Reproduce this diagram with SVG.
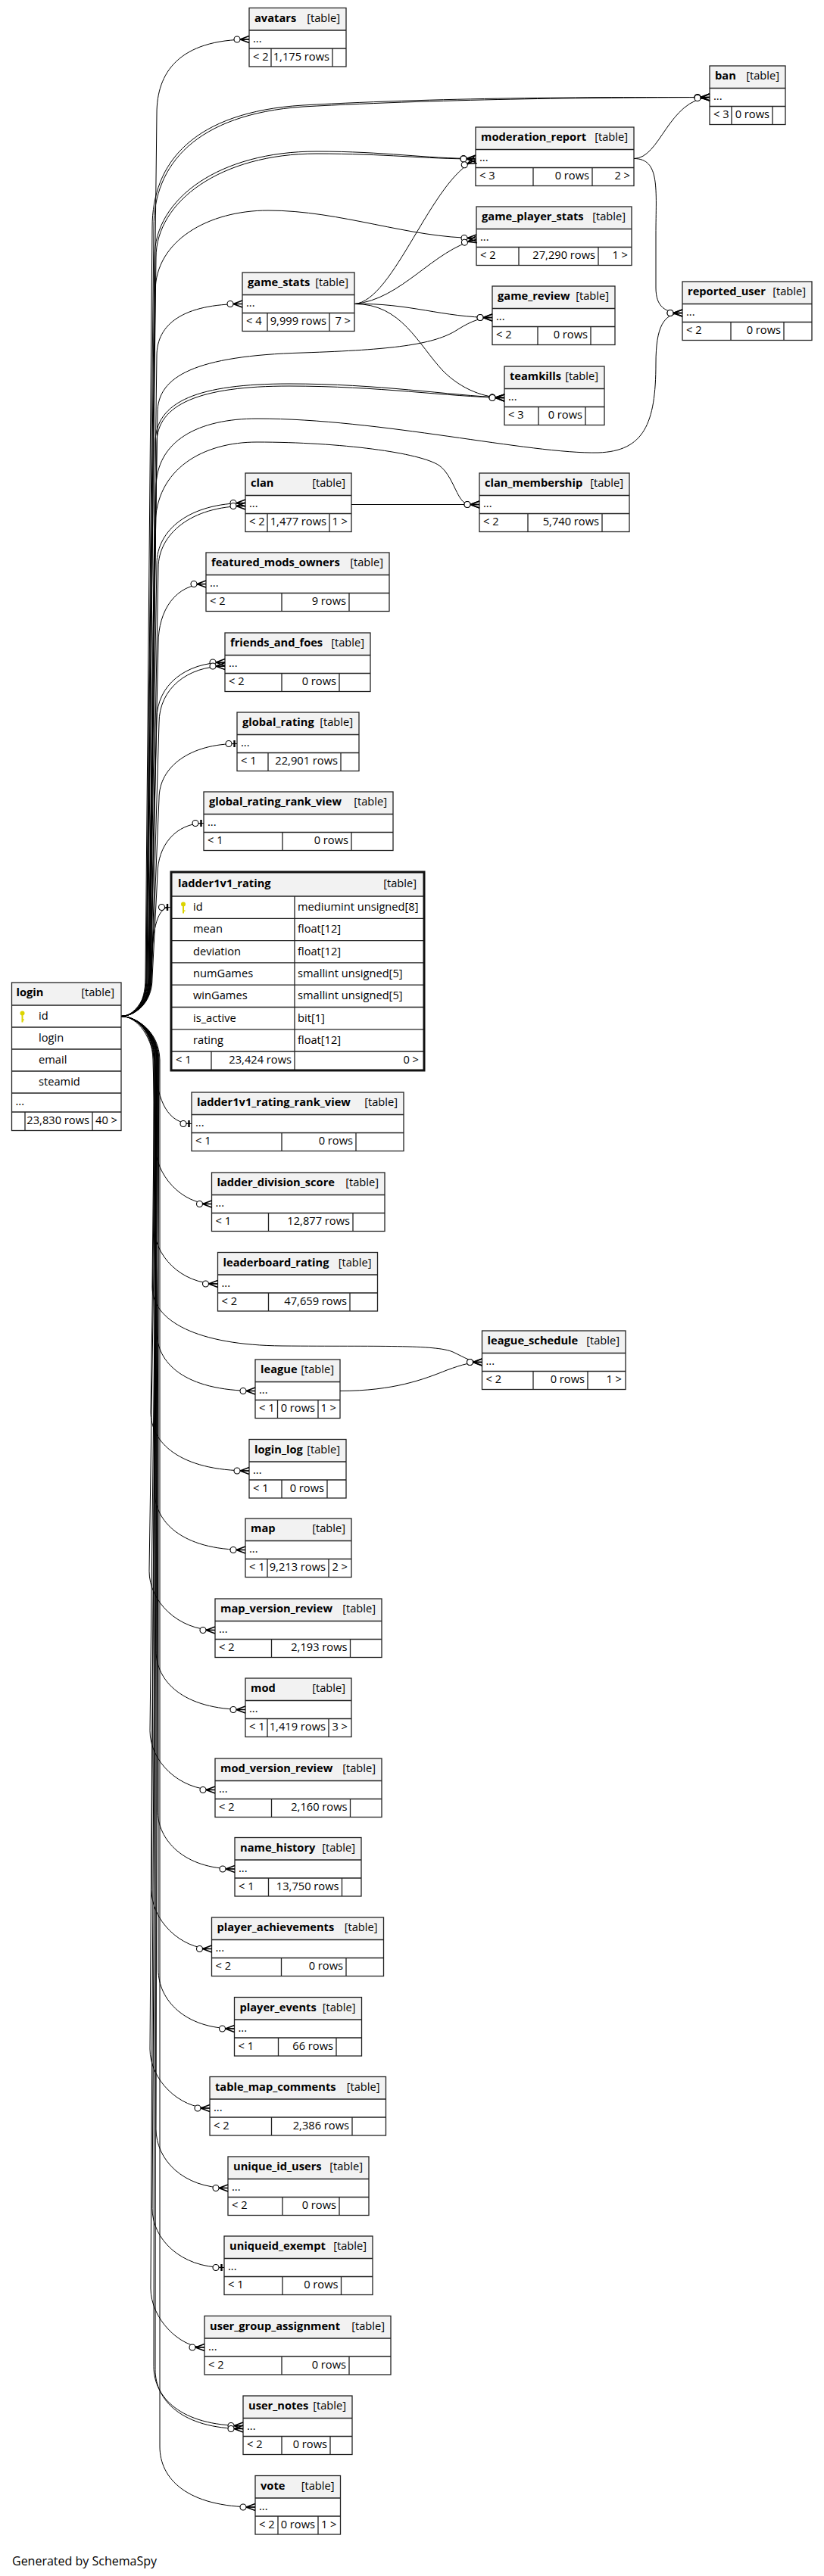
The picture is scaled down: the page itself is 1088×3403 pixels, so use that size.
<svg xmlns="http://www.w3.org/2000/svg" width="1088" height="3403" viewBox="0 0 1088 3403">
<style>
.hd{fill:#f2f2f2;stroke:none}
.bx{fill:none;stroke:#222;stroke-width:1.3}
.ln{fill:none;stroke:#222;stroke-width:1.3}
text{font-family:'Open Sans','Noto Sans',sans-serif;font-size:14.67px;fill:#000}
.b{font-weight:bold}
.e{text-anchor:end}
.ft{font-size:16px}
#connectors path{fill:none;stroke:#000;stroke-width:1}
.m{marker-end:url(#crow)}
.o{marker-end:url(#one)}
.key{fill:#dcd400}
</style>
<defs>
<marker id="crow" viewBox="-22 -8 24 16" refX="0" refY="0" markerWidth="24" markerHeight="16" markerUnits="userSpaceOnUse" orient="auto">
<path d="M-12,0L0,-4.5M-12,0L0,4.5M-12,0H0" fill="none" stroke="#000" stroke-width="1.5"/>
<circle cx="-16" cy="0" r="4" fill="#fff" stroke="#000" stroke-width="1.1"/>
</marker>
<marker id="one" viewBox="-22 -8 24 16" refX="0" refY="0" markerWidth="24" markerHeight="16" markerUnits="userSpaceOnUse" orient="auto">
<path d="M-7,0H0" fill="none" stroke="#000" stroke-width="1"/>
<path d="M-3.5,-4.5V4.5" fill="none" stroke="#000" stroke-width="2.4"/>
<circle cx="-11" cy="0" r="4" fill="#fff" stroke="#000" stroke-width="1.1"/>
</marker>
<g id="key" class="key"><circle cx="0" cy="-4" r="3"/><rect x="-1" y="-2" width="2" height="10"/><rect x="0" y="4" width="2.5" height="1.5"/></g>
</defs>
<rect x="0" y="0" width="1088" height="3403" fill="#fff"/>

<g id="avatars">
<rect class="hd" x="329" y="10.5" width="128" height="29.5"/>
<rect class="bx" x="329" y="10.5" width="128" height="77.5"/>
<path class="ln" d="M329 40H457M329 64H457M358 64V88M439 64V88"/>
<text class="b" x="336" y="28.5">avatars</text>
<text class="e" x="449" y="28.5">[table]</text>
<text x="334" y="55.5">...</text>
<text x="334" y="79.5">&lt; 2</text>
<text class="e" x="435" y="79.5">1,175 rows</text>
</g>

<g id="ban">
<rect class="hd" x="937" y="87" width="100" height="29.5"/>
<rect class="bx" x="937" y="87" width="100" height="77.5"/>
<path class="ln" d="M937 116.5H1037M937 140.5H1037M966 140.5V164.5M1020 140.5V164.5"/>
<text class="b" x="944" y="105">ban</text>
<text class="e" x="1029" y="105">[table]</text>
<text x="942" y="132">...</text>
<text x="942" y="156">&lt; 3</text>
<text class="e" x="1016" y="156">0 rows</text>
</g>

<g id="moderation_report">
<rect class="hd" x="628" y="168" width="209" height="29.5"/>
<rect class="bx" x="628" y="168" width="209" height="77.5"/>
<path class="ln" d="M628 197.5H837M628 221.5H837M704 221.5V245.5M782 221.5V245.5"/>
<text class="b" x="635" y="186">moderation_report</text>
<text class="e" x="829" y="186">[table]</text>
<text x="633" y="213">...</text>
<text x="633" y="237">&lt; 3</text>
<text class="e" x="778" y="237">0 rows</text>
<text class="e" x="832" y="237">2 &gt;</text>
</g>

<g id="game_player_stats">
<rect class="hd" x="629" y="273" width="205" height="29.5"/>
<rect class="bx" x="629" y="273" width="205" height="77.5"/>
<path class="ln" d="M629 302.5H834M629 326.5H834M685 326.5V350.5M790 326.5V350.5"/>
<text class="b" x="636" y="291">game_player_stats</text>
<text class="e" x="826" y="291">[table]</text>
<text x="634" y="318">...</text>
<text x="634" y="342">&lt; 2</text>
<text class="e" x="786" y="342">27,290 rows</text>
<text class="e" x="829" y="342">1 &gt;</text>
</g>

<g id="game_stats">
<rect class="hd" x="320" y="360" width="148" height="29.5"/>
<rect class="bx" x="320" y="360" width="148" height="77.5"/>
<path class="ln" d="M320 389.5H468M320 413.5H468M353 413.5V437.5M435 413.5V437.5"/>
<text class="b" x="327" y="378">game_stats</text>
<text class="e" x="460" y="378">[table]</text>
<text x="325" y="405">...</text>
<text x="325" y="429">&lt; 4</text>
<text class="e" x="431" y="429">9,999 rows</text>
<text class="e" x="463" y="429">7 &gt;</text>
</g>

<g id="game_review">
<rect class="hd" x="650" y="378" width="162" height="29.5"/>
<rect class="bx" x="650" y="378" width="162" height="77.5"/>
<path class="ln" d="M650 407.5H812M650 431.5H812M710 431.5V455.5M780 431.5V455.5"/>
<text class="b" x="657" y="396">game_review</text>
<text class="e" x="804" y="396">[table]</text>
<text x="655" y="423">...</text>
<text x="655" y="447">&lt; 2</text>
<text class="e" x="776" y="447">0 rows</text>
</g>

<g id="teamkills">
<rect class="hd" x="666" y="484" width="132" height="29.5"/>
<rect class="bx" x="666" y="484" width="132" height="77.5"/>
<path class="ln" d="M666 513.5H798M666 537.5H798M711 537.5V561.5M773 537.5V561.5"/>
<text class="b" x="673" y="502">teamkills</text>
<text class="e" x="790" y="502">[table]</text>
<text x="671" y="529">...</text>
<text x="671" y="553">&lt; 3</text>
<text class="e" x="769" y="553">0 rows</text>
</g>

<g id="reported_user">
<rect class="hd" x="901" y="372" width="171" height="29.5"/>
<rect class="bx" x="901" y="372" width="171" height="77.5"/>
<path class="ln" d="M901 401.5H1072M901 425.5H1072M965 425.5V449.5M1035 425.5V449.5"/>
<text class="b" x="908" y="390">reported_user</text>
<text class="e" x="1064" y="390">[table]</text>
<text x="906" y="417">...</text>
<text x="906" y="441">&lt; 2</text>
<text class="e" x="1031" y="441">0 rows</text>
</g>

<g id="clan">
<rect class="hd" x="324" y="625" width="140" height="29.5"/>
<rect class="bx" x="324" y="625" width="140" height="77.5"/>
<path class="ln" d="M324 654.5H464M324 678.5H464M353 678.5V702.5M435 678.5V702.5"/>
<text class="b" x="331" y="643">clan</text>
<text class="e" x="456" y="643">[table]</text>
<text x="329" y="670">...</text>
<text x="329" y="694">&lt; 2</text>
<text class="e" x="431" y="694">1,477 rows</text>
<text class="e" x="459" y="694">1 &gt;</text>
</g>

<g id="clan_membership">
<rect class="hd" x="633" y="625" width="198" height="29.5"/>
<rect class="bx" x="633" y="625" width="198" height="77.5"/>
<path class="ln" d="M633 654.5H831M633 678.5H831M697 678.5V702.5M795 678.5V702.5"/>
<text class="b" x="640" y="643">clan_membership</text>
<text class="e" x="823" y="643">[table]</text>
<text x="638" y="670">...</text>
<text x="638" y="694">&lt; 2</text>
<text class="e" x="791" y="694">5,740 rows</text>
</g>

<g id="featured_mods_owners">
<rect class="hd" x="272" y="730" width="242" height="29.5"/>
<rect class="bx" x="272" y="730" width="242" height="77.5"/>
<path class="ln" d="M272 759.5H514M272 783.5H514M372 783.5V807.5M461 783.5V807.5"/>
<text class="b" x="279" y="748">featured_mods_owners</text>
<text class="e" x="506" y="748">[table]</text>
<text x="277" y="775">...</text>
<text x="277" y="799">&lt; 2</text>
<text class="e" x="457" y="799">9 rows</text>
</g>

<g id="friends_and_foes">
<rect class="hd" x="297" y="836" width="192" height="29.5"/>
<rect class="bx" x="297" y="836" width="192" height="77.5"/>
<path class="ln" d="M297 865.5H489M297 889.5H489M372 889.5V913.5M448 889.5V913.5"/>
<text class="b" x="304" y="854">friends_and_foes</text>
<text class="e" x="481" y="854">[table]</text>
<text x="302" y="881">...</text>
<text x="302" y="905">&lt; 2</text>
<text class="e" x="444" y="905">0 rows</text>
</g>

<g id="global_rating">
<rect class="hd" x="313" y="941" width="161" height="29.5"/>
<rect class="bx" x="313" y="941" width="161" height="77.5"/>
<path class="ln" d="M313 970.5H474M313 994.5H474M354 994.5V1018.5M450 994.5V1018.5"/>
<text class="b" x="320" y="959">global_rating</text>
<text class="e" x="466" y="959">[table]</text>
<text x="318" y="986">...</text>
<text x="318" y="1010">&lt; 1</text>
<text class="e" x="446" y="1010">22,901 rows</text>
</g>

<g id="global_rating_rank_view">
<rect class="hd" x="269" y="1046" width="250" height="29.5"/>
<rect class="bx" x="269" y="1046" width="250" height="77.5"/>
<path class="ln" d="M269 1075.5H519M269 1099.5H519M373 1099.5V1123.5M464 1099.5V1123.5"/>
<text class="b" x="276" y="1064">global_rating_rank_view</text>
<text class="e" x="511" y="1064">[table]</text>
<text x="274" y="1091">...</text>
<text x="274" y="1115">&lt; 1</text>
<text class="e" x="460" y="1115">0 rows</text>
</g>

<g id="ladder1v1_rating">
<rect class="hd" x="226" y="1152" width="334" height="32"/>
<path class="ln" d="M226 1184H560M226 1213.3H560M226 1242.6H560M226 1271.9H560M226 1301.2H560M226 1330.5H560M226 1359.8H560M226 1389H560M389 1184V1414M279 1389V1414"/>
<rect x="226" y="1152" width="334" height="262" fill="none" stroke="#111" stroke-width="3"/>
<text class="b" x="235" y="1172">ladder1v1_rating</text>
<text class="e" x="550" y="1172">[table]</text>
<use href="#key" x="242" y="1198.5"/>
<text x="255" y="1203">id</text><text x="393" y="1203">mediumint unsigned[8]</text>
<text x="255" y="1232.3">mean</text><text x="393" y="1232.3">float[12]</text>
<text x="255" y="1261.6">deviation</text><text x="393" y="1261.6">float[12]</text>
<text x="255" y="1290.9">numGames</text><text x="393" y="1290.9">smallint unsigned[5]</text>
<text x="255" y="1320.2">winGames</text><text x="393" y="1320.2">smallint unsigned[5]</text>
<text x="255" y="1349.5">is_active</text><text x="393" y="1349.5">bit[1]</text>
<text x="255" y="1378.8">rating</text><text x="393" y="1378.8">float[12]</text>
<text x="232" y="1405">&lt; 1</text>
<text class="e" x="385" y="1405">23,424 rows</text>
<text class="e" x="553" y="1405">0 &gt;</text>
</g>

<g id="login">
<rect class="hd" x="15.5" y="1298" width="144.5" height="30"/>
<rect class="bx" x="15.5" y="1298" width="144.5" height="195.5"/>
<path class="ln" d="M15.5 1328H160M15.5 1357H160M15.5 1386H160M15.5 1415H160M15.5 1444H160M15.5 1469H160M33 1469V1493.5M122 1469V1493.5"/>
<text class="b" x="21.5" y="1316">login</text>
<text class="e" x="151" y="1316">[table]</text>
<use href="#key" x="29.5" y="1342.5"/>
<text x="51" y="1347">id</text>
<text x="51" y="1376">login</text>
<text x="51" y="1405">email</text>
<text x="51" y="1434">steamid</text>
<text x="20.5" y="1460">...</text>
<text class="e" x="118" y="1485">23,830 rows</text>
<text class="e" x="155" y="1485">40 &gt;</text>
</g>

<g id="ladder1v1_rating_rank_view">
<rect class="hd" x="253" y="1443" width="280" height="29.5"/>
<rect class="bx" x="253" y="1443" width="280" height="77.5"/>
<path class="ln" d="M253 1472.5H533M253 1496.5H533M372 1496.5V1520.5M470 1496.5V1520.5"/>
<text class="b" x="260" y="1461">ladder1v1_rating_rank_view</text>
<text class="e" x="525" y="1461">[table]</text>
<text x="258" y="1488">...</text>
<text x="258" y="1512">&lt; 1</text>
<text class="e" x="466" y="1512">0 rows</text>
</g>

<g id="ladder_division_score">
<rect class="hd" x="279.5" y="1549" width="228.5" height="29.5"/>
<rect class="bx" x="279.5" y="1549" width="228.5" height="77.5"/>
<path class="ln" d="M279.5 1578.5H508M279.5 1602.5H508M354.5 1602.5V1626.5M466 1602.5V1626.5"/>
<text class="b" x="286.5" y="1567">ladder_division_score</text>
<text class="e" x="500" y="1567">[table]</text>
<text x="284.5" y="1594">...</text>
<text x="284.5" y="1618">&lt; 1</text>
<text class="e" x="462" y="1618">12,877 rows</text>
</g>

<g id="leaderboard_rating">
<rect class="hd" x="287.5" y="1654.5" width="211" height="29.5"/>
<rect class="bx" x="287.5" y="1654.5" width="211" height="77.5"/>
<path class="ln" d="M287.5 1684H498.5M287.5 1708H498.5M354.5 1708V1732M462 1708V1732"/>
<text class="b" x="294.5" y="1672.5">leaderboard_rating</text>
<text class="e" x="490.5" y="1672.5">[table]</text>
<text x="292.5" y="1699.5">...</text>
<text x="292.5" y="1723.5">&lt; 2</text>
<text class="e" x="458" y="1723.5">47,659 rows</text>
</g>

<g id="league_schedule">
<rect class="hd" x="636.5" y="1758" width="189.5" height="29.5"/>
<rect class="bx" x="636.5" y="1758" width="189.5" height="77.5"/>
<path class="ln" d="M636.5 1787.5H826M636.5 1811.5H826M704 1811.5V1835.5M776 1811.5V1835.5"/>
<text class="b" x="643.5" y="1776">league_schedule</text>
<text class="e" x="818" y="1776">[table]</text>
<text x="641.5" y="1803">...</text>
<text x="641.5" y="1827">&lt; 2</text>
<text class="e" x="772" y="1827">0 rows</text>
<text class="e" x="821" y="1827">1 &gt;</text>
</g>

<g id="league">
<rect class="hd" x="337" y="1796" width="112" height="29.5"/>
<rect class="bx" x="337" y="1796" width="112" height="77.5"/>
<path class="ln" d="M337 1825.5H449M337 1849.5H449M366.5 1849.5V1873.5M420 1849.5V1873.5"/>
<text class="b" x="344" y="1814">league</text>
<text class="e" x="441" y="1814">[table]</text>
<text x="342" y="1841">...</text>
<text x="342" y="1865">&lt; 1</text>
<text class="e" x="416" y="1865">0 rows</text>
<text class="e" x="444" y="1865">1 &gt;</text>
</g>

<g id="login_log">
<rect class="hd" x="329" y="1901.5" width="128" height="29.5"/>
<rect class="bx" x="329" y="1901.5" width="128" height="77.5"/>
<path class="ln" d="M329 1931H457M329 1955H457M372 1955V1979M432 1955V1979"/>
<text class="b" x="336" y="1919.5">login_log</text>
<text class="e" x="449" y="1919.5">[table]</text>
<text x="334" y="1946.5">...</text>
<text x="334" y="1970.5">&lt; 1</text>
<text class="e" x="428" y="1970.5">0 rows</text>
</g>

<g id="map">
<rect class="hd" x="324" y="2006" width="140" height="29.5"/>
<rect class="bx" x="324" y="2006" width="140" height="77.5"/>
<path class="ln" d="M324 2035.5H464M324 2059.5H464M353 2059.5V2083.5M434 2059.5V2083.5"/>
<text class="b" x="331" y="2024">map</text>
<text class="e" x="456" y="2024">[table]</text>
<text x="329" y="2051">...</text>
<text x="329" y="2075">&lt; 1</text>
<text class="e" x="430" y="2075">9,213 rows</text>
<text class="e" x="459" y="2075">2 &gt;</text>
</g>

<g id="map_version_review">
<rect class="hd" x="284" y="2112" width="220" height="29.5"/>
<rect class="bx" x="284" y="2112" width="220" height="77.5"/>
<path class="ln" d="M284 2141.5H504M284 2165.5H504M358.5 2165.5V2189.5M462.5 2165.5V2189.5"/>
<text class="b" x="291" y="2130">map_version_review</text>
<text class="e" x="496" y="2130">[table]</text>
<text x="289" y="2157">...</text>
<text x="289" y="2181">&lt; 2</text>
<text class="e" x="458.5" y="2181">2,193 rows</text>
</g>

<g id="mod">
<rect class="hd" x="324" y="2217" width="140" height="29.5"/>
<rect class="bx" x="324" y="2217" width="140" height="77.5"/>
<path class="ln" d="M324 2246.5H464M324 2270.5H464M353 2270.5V2294.5M434 2270.5V2294.5"/>
<text class="b" x="331" y="2235">mod</text>
<text class="e" x="456" y="2235">[table]</text>
<text x="329" y="2262">...</text>
<text x="329" y="2286">&lt; 1</text>
<text class="e" x="430" y="2286">1,419 rows</text>
<text class="e" x="459" y="2286">3 &gt;</text>
</g>

<g id="mod_version_review">
<rect class="hd" x="284" y="2323" width="220" height="29.5"/>
<rect class="bx" x="284" y="2323" width="220" height="77.5"/>
<path class="ln" d="M284 2352.5H504M284 2376.5H504M358.5 2376.5V2400.5M462.5 2376.5V2400.5"/>
<text class="b" x="291" y="2341">mod_version_review</text>
<text class="e" x="496" y="2341">[table]</text>
<text x="289" y="2368">...</text>
<text x="289" y="2392">&lt; 2</text>
<text class="e" x="458.5" y="2392">2,160 rows</text>
</g>

<g id="name_history">
<rect class="hd" x="310" y="2427.5" width="167" height="29.5"/>
<rect class="bx" x="310" y="2427.5" width="167" height="77.5"/>
<path class="ln" d="M310 2457H477M310 2481H477M354.5 2481V2505M451.5 2481V2505"/>
<text class="b" x="317" y="2445.5">name_history</text>
<text class="e" x="469" y="2445.5">[table]</text>
<text x="315" y="2472.5">...</text>
<text x="315" y="2496.5">&lt; 1</text>
<text class="e" x="447.5" y="2496.5">13,750 rows</text>
</g>

<g id="player_achievements">
<rect class="hd" x="279.5" y="2533" width="227" height="29.5"/>
<rect class="bx" x="279.5" y="2533" width="227" height="77.5"/>
<path class="ln" d="M279.5 2562.5H506.5M279.5 2586.5H506.5M371.5 2586.5V2610.5M457 2586.5V2610.5"/>
<text class="b" x="286.5" y="2551">player_achievements</text>
<text class="e" x="498.5" y="2551">[table]</text>
<text x="284.5" y="2578">...</text>
<text x="284.5" y="2602">&lt; 2</text>
<text class="e" x="453" y="2602">0 rows</text>
</g>

<g id="player_events">
<rect class="hd" x="309.5" y="2638.5" width="168" height="29.5"/>
<rect class="bx" x="309.5" y="2638.5" width="168" height="77.5"/>
<path class="ln" d="M309.5 2668H477.5M309.5 2692H477.5M367.5 2692V2716M444 2692V2716"/>
<text class="b" x="316.5" y="2656.5">player_events</text>
<text class="e" x="469.5" y="2656.5">[table]</text>
<text x="314.5" y="2683.5">...</text>
<text x="314.5" y="2707.5">&lt; 1</text>
<text class="e" x="440" y="2707.5">66 rows</text>
</g>

<g id="table_map_comments">
<rect class="hd" x="277" y="2743.5" width="232.5" height="29.5"/>
<rect class="bx" x="277" y="2743.5" width="232.5" height="77.5"/>
<path class="ln" d="M277 2773H509.5M277 2797H509.5M358.5 2797V2821M465 2797V2821"/>
<text class="b" x="284" y="2761.5">table_map_comments</text>
<text class="e" x="501.5" y="2761.5">[table]</text>
<text x="282" y="2788.5">...</text>
<text x="282" y="2812.5">&lt; 2</text>
<text class="e" x="461" y="2812.5">2,386 rows</text>
</g>

<g id="unique_id_users">
<rect class="hd" x="301" y="2849" width="186" height="29.5"/>
<rect class="bx" x="301" y="2849" width="186" height="77.5"/>
<path class="ln" d="M301 2878.5H487M301 2902.5H487M373 2902.5V2926.5M448 2902.5V2926.5"/>
<text class="b" x="308" y="2867">unique_id_users</text>
<text class="e" x="479" y="2867">[table]</text>
<text x="306" y="2894">...</text>
<text x="306" y="2918">&lt; 2</text>
<text class="e" x="444" y="2918">0 rows</text>
</g>

<g id="uniqueid_exempt">
<rect class="hd" x="296" y="2954" width="196" height="29.5"/>
<rect class="bx" x="296" y="2954" width="196" height="77.5"/>
<path class="ln" d="M296 2983.5H492M296 3007.5H492M373 3007.5V3031.5M450.5 3007.5V3031.5"/>
<text class="b" x="303" y="2972">uniqueid_exempt</text>
<text class="e" x="484" y="2972">[table]</text>
<text x="301" y="2999">...</text>
<text x="301" y="3023">&lt; 1</text>
<text class="e" x="446.5" y="3023">0 rows</text>
</g>

<g id="user_group_assignment">
<rect class="hd" x="270" y="3059.5" width="246" height="29.5"/>
<rect class="bx" x="270" y="3059.5" width="246" height="77.5"/>
<path class="ln" d="M270 3089H516M270 3113H516M372 3113V3137M461 3113V3137"/>
<text class="b" x="277" y="3077.5">user_group_assignment</text>
<text class="e" x="508" y="3077.5">[table]</text>
<text x="275" y="3104.5">...</text>
<text x="275" y="3128.5">&lt; 2</text>
<text class="e" x="457" y="3128.5">0 rows</text>
</g>

<g id="user_notes">
<rect class="hd" x="321" y="3165" width="144" height="29.5"/>
<rect class="bx" x="321" y="3165" width="144" height="77.5"/>
<path class="ln" d="M321 3194.5H465M321 3218.5H465M372 3218.5V3242.5M436 3218.5V3242.5"/>
<text class="b" x="328" y="3183">user_notes</text>
<text class="e" x="457" y="3183">[table]</text>
<text x="326" y="3210">...</text>
<text x="326" y="3234">&lt; 2</text>
<text class="e" x="432" y="3234">0 rows</text>
</g>

<g id="vote">
<rect class="hd" x="337" y="3270.5" width="112.5" height="29.5"/>
<rect class="bx" x="337" y="3270.5" width="112.5" height="77.5"/>
<path class="ln" d="M337 3300H449.5M337 3324H449.5M367 3324V3348M420 3324V3348"/>
<text class="b" x="344" y="3288.5">vote</text>
<text class="e" x="441.5" y="3288.5">[table]</text>
<text x="342" y="3315.5">...</text>
<text x="342" y="3339.5">&lt; 2</text>
<text class="e" x="416" y="3339.5">0 rows</text>
<text class="e" x="444.5" y="3339.5">1 &gt;</text>
</g>

<g id="connectors">
<path class="m" d="M160,1342.5C178,1342 194,1326 194,1292L207,150C207,96 236,52 329,52"/>
<path class="m" d="M160,1342.5C178,1342 192,1326 192,1292L201,300C201,215 255,148 400,139C600,128 800,128.5 937,128.5"/>
<path class="m" d="M160,1342.5C178,1342 193,1326 193,1292L203,300C203,218 258,151 400,141C600,130 800,129 937,128.5"/>
<path class="m" d="M160,1342.5C178,1342 193,1326 193,1292L204,340C204,262 290,200 418,200C510,200 560,209.5 628,209.5"/>
<path class="m" d="M160,1342.5C178,1342 194,1326 194,1292L206,340C206,266 292,203 418,203C510,203 560,210 628,210"/>
<path class="m" d="M160,1342.5C178,1342 195,1326 195,1292L205,385C205,318 275,278 354,278C450,278 540,314.5 629,314.5"/>
<path class="m" d="M160,1342.5C178,1342 196,1326 196,1292L207,470C207,428 242,401.5 320,401.5"/>
<path class="m" d="M160,1342.5C178,1342 196,1326 196,1292L208,545C208,497 258,470 400,466C520,462 570,455 600,438C616,428 630,419.5 650,419.5"/>
<path class="m" d="M160,1342.5C178,1342 197,1326 197,1292L205,585C205,530 262,507 382,507C500,507 590,522 666,525.5"/>
<path class="m" d="M160,1342.5C178,1342 198,1326 198,1292L207,585C207,534 264,510 382,510C500,510 590,524 666,525.5"/>
<path class="m" d="M160,1342.5C178,1342 197,1326 197,1292L206,645C206,582 262,553 340,553C500,553 700,600 790,598C850,596 866,560 866,480C866,432 876,413.5 901,413.5"/>
<path class="m" d="M160,1342.5C178,1342 198,1326 198,1292L205,695C205,618 270,584 339,584C450,584 555,598 580,615C598,628 603,660 615,665C620,666.5 626,666.5 633,666.5"/>
<path class="m" d="M160,1342.5C178,1342 198,1326 198,1292L207,745C207,700 250,664.5 324,664.5"/>
<path class="m" d="M160,1342.5C178,1342 199,1326 199,1292L209,750C209,706 252,668.5 324,668.5"/>
<path class="m" d="M160,1342.5C178,1342 199,1326 199,1292L209,850C209,806 232,771.5 272,771.5"/>
<path class="m" d="M160,1342.5C178,1342 199,1326 199,1292L207,950C207,905 245,875 297,875"/>
<path class="m" d="M160,1342.5C178,1342 200,1326 200,1292L210,955C210,910 247,880 297,880"/>
<path class="o" d="M160,1342.5C178,1342 200,1326 200,1292L210,1055C210,1012 252,982.5 313,982.5"/>
<path class="o" d="M160,1342.5C178,1342 201,1326 201,1292L208,1155C208,1117 232,1087.5 269,1087.5"/>
<path class="o" d="M160,1342.5C182,1342 198,1310 200,1270C202,1225 208,1198.5 224.5,1198.5"/>
<path class="o" d="M160,1342.5C182,1343 202,1370 205,1410C208,1455 222,1484.5 253,1484.5"/>
<path class="m" d="M160,1342.5C180,1343 201,1362 202,1400L205,1512.5C205,1552.5 240,1590.5 279.5,1590.5"/>
<path class="m" d="M160,1342.5C180,1343 202,1362 203,1400L203,1618C203,1658 238,1696 287.5,1696"/>
<path class="m" d="M160,1342.5C180,1343 203,1362 204,1400L201,1700C201,1745 260,1777 373,1778C500,1779 575,1776 598,1786C615,1794 622,1799.5 636.5,1799.5"/>
<path class="m" d="M160,1342.5C180,1343 204,1362 205,1400L207,1759.5C207,1799.5 242,1837.5 337,1837.5"/>
<path class="m" d="M160,1342.5C180,1343 205,1362 206,1400L199,1865C199,1905 236,1943 329,1943"/>
<path class="m" d="M160,1342.5C180,1343 203,1362 204,1400L204,1969.5C204,2009.5 239,2047.5 324,2047.5"/>
<path class="m" d="M160,1342.5C180,1343 206,1362 207,1400L197,2075.5C197,2115.5 235,2153.5 284,2153.5"/>
<path class="m" d="M160,1342.5C180,1343 204,1362 205,1400L206,2180.5C206,2220.5 241,2258.5 324,2258.5"/>
<path class="m" d="M160,1342.5C180,1343 207,1362 208,1400L198,2286.5C198,2326.5 236,2364.5 284,2364.5"/>
<path class="m" d="M160,1342.5C180,1343 208,1362 209,1400L208,2391C208,2431 243,2469 310,2469"/>
<path class="m" d="M160,1342.5C180,1343 206,1362 207,1400L200,2496.5C200,2536.5 238,2574.5 279.5,2574.5"/>
<path class="m" d="M160,1342.5C180,1343 208,1362 209,1400L209,2602C209,2642 244,2680 309.5,2680"/>
<path class="m" d="M160,1342.5C180,1343 206,1362 207,1400L198,2707C198,2747 236,2785 277,2785"/>
<path class="m" d="M160,1342.5C180,1343 208,1362 209,1400L206,2812.5C206,2852.5 241,2890.5 301,2890.5"/>
<path class="o" d="M160,1342.5C180,1343 209,1362 210,1400L201,2917.5C201,2957.5 238,2995.5 296,2995.5"/>
<path class="m" d="M160,1342.5C180,1343 207,1362 208,1400L199,3023C199,3063 237,3101 270,3101"/>
<path class="m" d="M160,1342.5C180,1343 204,1362 205,1400L203,3126.5C203,3166.5 238,3204.5 321,3204.5"/>
<path class="m" d="M160,1342.5C180,1343 206,1362 207,1400L205,3130.5C205,3170.5 240,3208.5 321,3208.5"/>
<path class="m" d="M160,1342.5C180,1343 210,1362 211,1400L211,3232C211,3274 246,3312 337,3312"/>
<path class="m" d="M468,401.5C520,398 570,236 628,211.5"/>
<path class="m" d="M468,401.5C530,396 572,330 629,316.5"/>
<path class="m" d="M468,401.5C540,400 585,419.5 650,419.5"/>
<path class="m" d="M468,401.5C530,401 552,455 585,490C610,515 640,525.5 666,525.5"/>
<path class="m" d="M837,209.5C872,209.5 882,132 937,128.5"/>
<path class="m" d="M837,209.5C872,209.5 866,250 866,310L866,380C866,405 878,413.5 901,413.5"/>
<path class="m" d="M464,666.5H633"/>
<path class="m" d="M449,1837.5C520,1837.5 560,1822 590,1810C612,1802 622,1799.5 636.5,1799.5"/>
</g>

<text class="ft" x="16" y="3388.5">Generated by SchemaSpy</text>
</svg>
